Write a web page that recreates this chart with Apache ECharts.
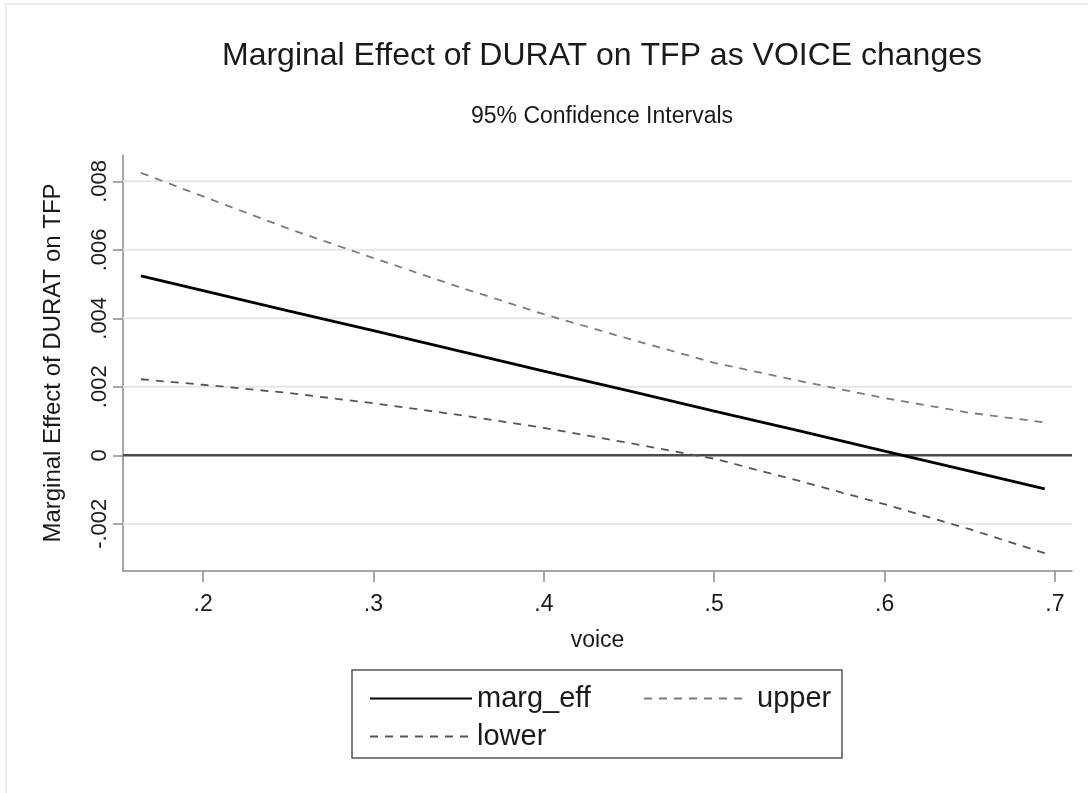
<!DOCTYPE html>
<html>
<head>
<meta charset="utf-8">
<script src="https://cdn.jsdelivr.net/npm/echarts@6/dist/echarts.min.js"></script>
<style>
html,body{margin:0;padding:0;background:#fff;}
#chart{width:1088px;height:793px;}
</style>
</head>
<body>
<div id="chart"></div>
<script>
// ---- data ----
var voice = [0.1635, 0.2, 0.25, 0.3, 0.35, 0.4, 0.45, 0.5, 0.55, 0.6, 0.65, 0.694];
var margEff = [0.00524, 0.00481, 0.00422, 0.00364, 0.00305, 0.00246, 0.00188, 0.00129, 0.00071, 0.00012, -0.00046, -0.00098];
var upper = [0.00825, 0.00756, 0.00662, 0.00576, 0.00492, 0.00412, 0.00340, 0.00270, 0.00217, 0.00167, 0.00124, 0.00096];
var lower = [0.00222, 0.00206, 0.00182, 0.00152, 0.00118, 0.00080, 0.00036, -0.00010, -0.00075, -0.00143, -0.00216, -0.00286];

var xTickValues = [0.2, 0.3, 0.4, 0.5, 0.6, 0.7];
var xTickLabels = ['.2', '.3', '.4', '.5', '.6', '.7'];
var yTickValues = [-0.002, 0, 0.002, 0.004, 0.006, 0.008];
var yTickLabels = ['-.002', '0', '.002', '.004', '.006', '.008'];

var X_MIN = 0.153, X_MAX = 0.71, Y_MIN = -0.00338, Y_MAX = 0.00877;

function pairs(xs, ys) { return xs.map(function (x, i) { return [x, ys[i]]; }); }
function lookup(vals, labels) {
  return function (v) {
    for (var i = 0; i < vals.length; i++) { if (Math.abs(vals[i] - v) < 1e-9) return labels[i]; }
    return '';
  };
}

var FONT = '"Liberation Sans", Arial, sans-serif';
var chart = echarts.init(document.getElementById('chart'), null, {renderer: 'canvas'});

// horizontal reference lines at the y ticks (zero line darker)
var gridSeries = yTickValues.map(function (v) {
  var isZero = Math.abs(v) < 1e-12;
  return {
    name: 'grid' + v, type: 'line', silent: true, symbol: 'none', showSymbol: false,
    data: [[X_MIN, v], [X_MAX, v]], z: isZero ? 3 : 1,
    lineStyle: isZero ? {color: '#4a4a4a', width: 2.4} : {color: '#e6e6e6', width: 2},
    emphasis: {disabled: true}, tooltip: {show: false}
  };
});

var legendText = {fontFamily: FONT, fontSize: 29, color: '#1a1a1a'};

var option = {
  animation: false,
  backgroundColor: '#ffffff',
  title: [
    {text: 'Marginal Effect of DURAT on TFP as VOICE changes', left: 597, top: 35, textAlign: 'center',
     textStyle: {fontFamily: FONT, fontSize: 32, fontWeight: 'normal', color: '#1a1a1a'}},
    {text: '95% Confidence Intervals', left: 597, top: 100, textAlign: 'center',
     textStyle: {fontFamily: FONT, fontSize: 23, fontWeight: 'normal', color: '#1a1a1a'}}
  ],
  grid: {left: 123, right: 16, top: 155, bottom: 222, containLabel: false},
  xAxis: {
    type: 'value', min: X_MIN, max: X_MAX,
    name: 'voice', nameLocation: 'middle', nameGap: 58,
    nameTextStyle: {fontFamily: FONT, fontSize: 23, color: '#1a1a1a'},
    axisLine: {show: true, onZero: false, lineStyle: {color: '#8a8a8a', width: 1.5}},
    axisTick: {show: true, length: 11, lineStyle: {color: '#8a8a8a', width: 1.5}, customValues: xTickValues},
    axisLabel: {fontFamily: FONT, fontSize: 23, color: '#1a1a1a', margin: 22, customValues: xTickValues,
      formatter: lookup(xTickValues, xTickLabels)},
    splitLine: {show: false}
  },
  yAxis: {
    type: 'value', min: Y_MIN, max: Y_MAX,
    name: 'Marginal Effect of DURAT on TFP', nameLocation: 'middle', nameGap: 58, nameRotate: 90,
    nameTextStyle: {fontFamily: FONT, fontSize: 24, color: '#1a1a1a'},
    axisLine: {show: true, onZero: false, lineStyle: {color: '#8a8a8a', width: 1.5}},
    axisTick: {show: true, length: 10, lineStyle: {color: '#8a8a8a', width: 1.5}, customValues: yTickValues},
    axisLabel: {fontFamily: FONT, fontSize: 22, color: '#1a1a1a', rotate: 90, margin: 12, customValues: yTickValues,
      formatter: lookup(yTickValues, yTickLabels)},
    splitLine: {show: false}
  },
  legend: [
    {orient: 'vertical', left: 364, top: 679, itemWidth: 102, itemHeight: 14, itemGap: 9,
     data: ['marg_eff', 'lower'],
     itemStyle: {opacity: 0},
     textStyle: legendText},
    {orient: 'vertical', left: 638, top: 679, itemWidth: 102, itemHeight: 14,
     data: ['upper'],
     itemStyle: {opacity: 0},
     textStyle: Object.assign({padding: [0, 0, 0, 6]}, legendText)}
  ],
  series: gridSeries.concat([
    {name: 'marg_eff', type: 'line', data: pairs(voice, margEff), symbol: 'none', showSymbol: false, z: 5,
     lineStyle: {color: '#000000', width: 2.8, type: 'solid'}, itemStyle: {color: '#000000'}},
    {name: 'upper', type: 'line', data: pairs(voice, upper), symbol: 'none', showSymbol: false, z: 4,
     lineStyle: {color: '#7c7c7c', width: 1.8, type: [8, 7]}, itemStyle: {color: '#7c7c7c'}},
    {name: 'lower', type: 'line', data: pairs(voice, lower), symbol: 'none', showSymbol: false, z: 4,
     lineStyle: {color: '#555555', width: 1.8, type: [8, 7]}, itemStyle: {color: '#555555'}}
  ]),
  graphic: [
    {type: 'rect', shape: {x: 352, y: 670, width: 490, height: 88}, style: {fill: 'none', stroke: '#555555', lineWidth: 1.5}, z: 1},
    {type: 'line', shape: {x1: 6, y1: 4, x2: 1088, y2: 4}, style: {stroke: '#ececec', lineWidth: 2}},
    {type: 'line', shape: {x1: 6, y1: 4, x2: 6, y2: 793}, style: {stroke: '#ececec', lineWidth: 2}}
  ]
};
chart.setOption(option);
</script>
</body>
</html>
